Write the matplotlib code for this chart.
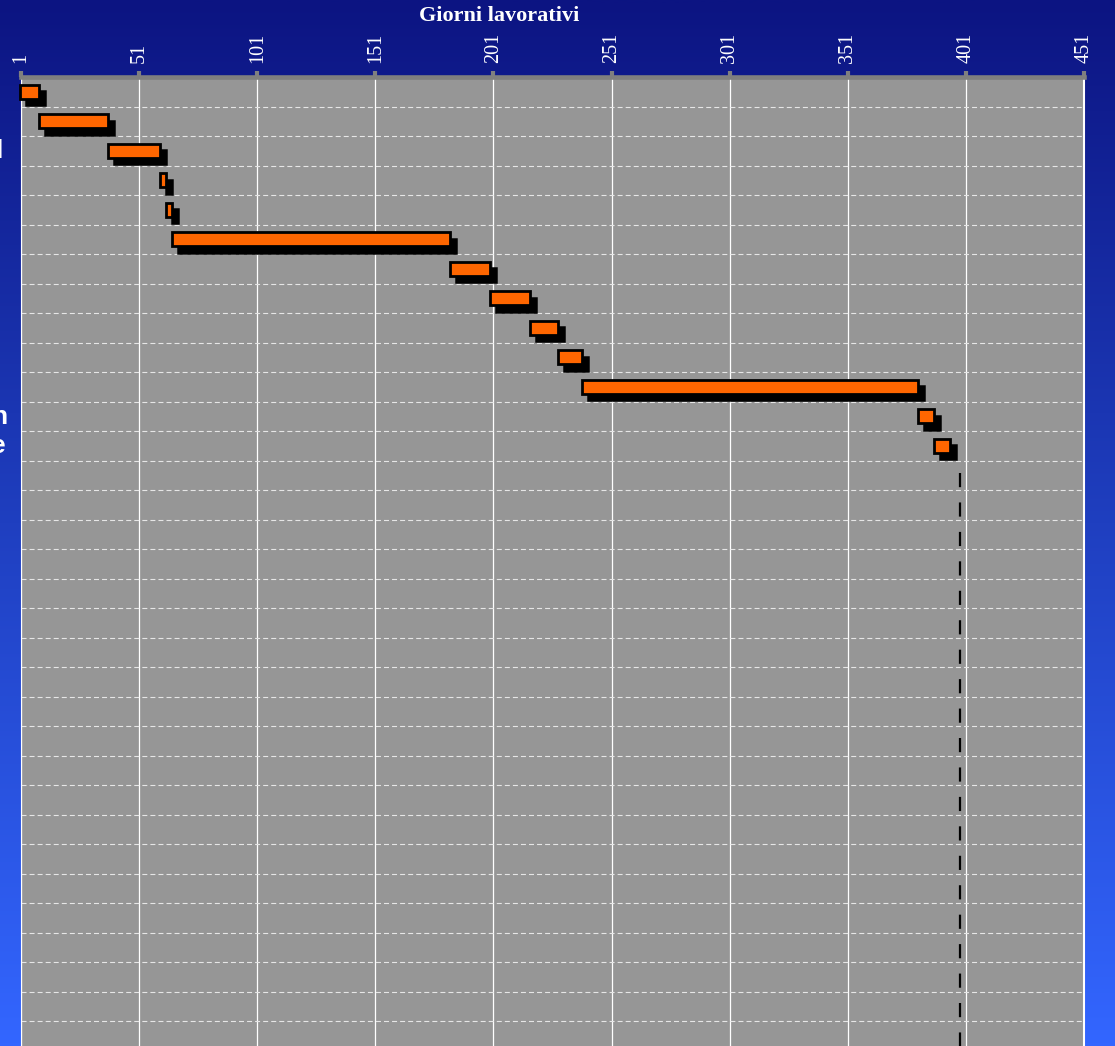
import matplotlib
matplotlib.use("Agg")
import matplotlib.pyplot as plt
import matplotlib.transforms as mtransforms
from matplotlib.colors import LinearSegmentedColormap
import numpy as np

W, H, DPI = 1115, 1046, 100

# task start / end (working days), one row per task from the top
starts = [0.5, 8.8, 37.7, 59.7, 62.2, 64.8, 182.5, 199.4, 216.4, 228.3, 238.4, 380.7, 387.4]
ends = [8.7, 37.7, 59.8, 62.2, 65.0, 182.5, 199.4, 216.4, 228.3, 238.4, 380.7, 387.4, 394.2]
n_rows = 33
deadline = 398.5
deadline_from_row = 13.42
xticks = list(range(1, 452, 50))
title = "Giorni lavorativi"
# row labels are cut off at the left edge: only their tails show
left_rows = [2, 11, 12]
left_text = ["l", "n", "e"]

plt.rcParams["lines.scale_dashes"] = False

fig = plt.figure(figsize=(W / DPI, H / DPI), dpi=DPI)

# blue gradient background
bg = fig.add_axes([0, 0, 1, 1], zorder=-10)
cmap = LinearSegmentedColormap.from_list("bg", ["#0c1482", "#1f3fc0", "#3366ff"])
bg.imshow(np.linspace(0, 1, 512).reshape(-1, 1), aspect="auto", cmap=cmap,
          extent=[0, 1, 0, 1], origin="upper")
bg.axis("off")

top_px = 77
ax = fig.add_axes([21 / W, 0, (1084 - 21) / W, (H - top_px) / H])
ax.set_facecolor("#969696")
row_px = 29.5
ax.set_xlim(1, 451)
ax.set_ylim((H - top_px) / row_px, 0)

rows = np.arange(len(starts)) + 0.5
widths = np.array(ends) - np.array(starts)
shadow = mtransforms.offset_copy(ax.transData, fig=fig, x=6, y=-6.5, units="dots")
ax.barh(rows, widths, left=starts, height=0.49, color="black", edgecolor="black",
        lw=1.8, transform=shadow, zorder=3, clip_on=False)
ax.barh(rows, widths, left=starts, height=0.49, color="#ff6600", edgecolor="black",
        lw=2.0, zorder=4, clip_on=False)

# grid: solid verticals, dashed row separators
ax.set_xticks(xticks)
ax.grid(axis="x", color="white", lw=0.9, zorder=1)
ax.hlines(np.arange(1, n_rows), 1, 450.5, colors="#e6e6e6", lw=0.8,
          linestyles=(0, (3.6, 2.2)), zorder=2)
ax.set_axisbelow(True)

ax.vlines(deadline, deadline_from_row, n_rows, colors="black", lw=1.6,
          linestyles=(0, (10.2, 11.0)), zorder=5)

ax.xaxis.tick_top()
ax.tick_params(axis="x", top=True, bottom=False, direction="out", length=4.3, width=3,
               color="#7f7f7f", labelcolor="white", labelsize=14.5, labelrotation=90,
               pad=5.5, labelfontfamily="Liberation Serif")
ax.tick_params(axis="y", left=False, labelleft=False)
ax.spines["top"].set_color("#7f7f7f")
ax.spines["top"].set_linewidth(3.3)
ax.spines["left"].set_color("white")
ax.spines["left"].set_linewidth(0.8)
ax.spines["right"].set_color("white")
ax.spines["right"].set_linewidth(1.5)
ax.spines["bottom"].set_visible(False)

fig.text(499 / W, 1 - 16 / H, title, ha="center", va="center", color="white",
         fontsize=16, fontweight="bold", family="Liberation Serif")

lbl_tr = mtransforms.blended_transform_factory(fig.transFigure, ax.transData)
for r, t, xr in zip(left_rows, left_text, [2.5, 7.5, 6.0]):
    ax.text(xr / W, r + 0.5 + 0.25, t, transform=lbl_tr, ha="right", va="baseline",
            color="white", fontsize=19, fontweight="bold", family="Liberation Sans",
            clip_on=False)

fig.savefig("out.png", dpi=DPI)
